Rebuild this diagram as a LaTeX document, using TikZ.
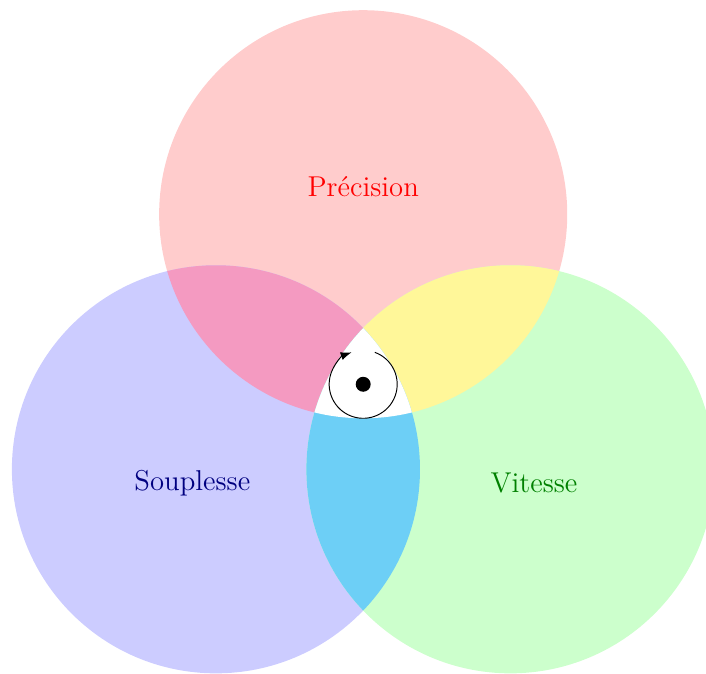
\documentclass[tikz,border=0pt]{standalone}
\usepackage{tikz}
\usetikzlibrary{arrows.meta}
\definecolor{vennpink}{HTML}{F49AC1}
\definecolor{vennyellow}{HTML}{FFF799}
\definecolor{venncyan}{HTML}{6DCFF6}

\begin{document}
\begin{tikzpicture}[
    every node/.style={font=\large},
    setlabel/.style={align=center},
    cycle/.style={-{Latex[length=1.6mm]}, black}
]
    \useasboundingbox (-5.34,-4.25) rectangle (5.04,5.65);

    % The three sets
    \def\precision{(90:2.5) circle (3)}
    \def\souplesse{(210:2.5) circle (3)}
    \def\vitesse{(330:2.5) circle (3)}
    \fill[red!20] \precision;
    \fill[blue!20] \souplesse;
    \fill[green!20] \vitesse;

    % Pairwise overlaps
    \begin{scope}
        \clip \precision;
        \fill[vennpink] \souplesse;
    \end{scope}
    \begin{scope}
        \clip \precision;
        \fill[vennyellow] \vitesse;
    \end{scope}
    \begin{scope}
        \clip \souplesse;
        \fill[venncyan] \vitesse;
    \end{scope}

    % Common part
    \begin{scope}
        \clip \precision;
        \clip \souplesse;
        \fill[white] \vitesse;
    \end{scope}

    % Labels
    \node[setlabel, text=red] (prec) at (90:2.9) {Précision};
    \node[setlabel, text=blue!50!black] (soup) at (210:2.9) {Souplesse};
    \node[setlabel, text=green!50!black] (vit) at (330:2.9) {Vitesse};

    % Centre
    \node[circle, fill=black, inner sep=0pt, minimum size=2.2mm] (centre) at (0,0) {};
    \draw[cycle] (centre.center) ++(70:0.5) arc[start angle=70, end angle=-250, radius=0.5];
\end{tikzpicture}
\end{document}
